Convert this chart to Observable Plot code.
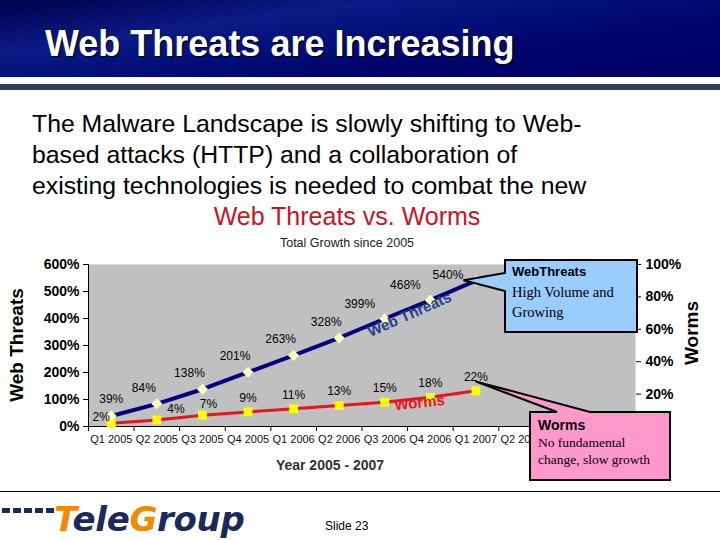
<!DOCTYPE html>
<html><head><meta charset="utf-8">
<script src="https://cdn.jsdelivr.net/npm/d3@7"></script>
<script src="https://cdn.jsdelivr.net/npm/@observablehq/plot@0.6"></script>
<style>
body{margin:0;}
#page{position:relative;width:720px;height:540px;overflow:hidden;background:#fff;font-family:Arial,"Liberation Sans",sans-serif;}
.abs{position:absolute;white-space:nowrap;}
.serif{font-family:"Liberation Serif","Times New Roman",serif;}
</style></head><body><div id="page">
<div class="abs" style="left:0;top:0;width:720px;height:77px;background:linear-gradient(172deg,#00004a 0%,#0b1a86 30%,#02107a 48%,#00066c 65%,#000066 100%)"></div>
<div class="abs" style="left:0;top:84px;width:720px;height:6px;background:#363d5e"></div>
<div class="abs" style="left:45px;top:23px;color:#fff;font-weight:bold;font-size:36px;line-height:42px;text-shadow:1px 1px 1px #000">Web Threats are Increasing</div>
<div class="abs" style="left:32px;top:108px;font-size:24.8px;line-height:31px;color:#000">The Malware Landscape is slowly shifting to Web-<br>based attacks (HTTP) and a collaboration of<br>existing technologies is needed to combat the new</div>
<div class="abs" id="chart" style="left:0;top:0"></div>
<div class="abs" style="left:0;width:720px;top:202px;text-align:center;"><span style="position:relative;left:-13px;font-size:25px;color:#c8141e">Web Threats vs. Worms</span></div>
<div class="abs" style="left:0;width:720px;top:233px;text-align:center;"><span style="position:relative;left:-13px;font-size:12.5px;color:#222">Total Growth since 2005</span></div>
<div class="abs" style="left:0;width:660px;top:457px;text-align:center;font-size:14px;font-weight:bold;color:#333">Year 2005 - 2007</div>
<div class="abs" style="left:17px;top:345px;font-size:19px;font-weight:bold;transform:translate(-50%,-50%) rotate(-90deg);">Web Threats</div>
<div class="abs" style="left:692px;top:333px;font-size:19px;font-weight:bold;transform:translate(-50%,-50%) rotate(-90deg);">Worms</div>
<svg id="callouts" class="abs" style="left:0;top:0" width="720" height="540"></svg>
<div class="abs" style="left:512px;top:264px;font-size:13px;font-weight:bold;">WebThreats</div>
<div class="abs serif" style="left:512px;top:282px;font-size:14.5px;line-height:20px;">High Volume and<br>Growing</div>
<div class="abs" style="left:538px;top:417px;font-size:14px;font-weight:bold;">Worms</div>
<div class="abs serif" style="left:538px;top:434px;font-size:13.5px;line-height:17px;">No fundamental<br>change, slow growth</div>
<div class="abs" style="left:0;top:491px;width:720px;height:1px;background:#000"></div>
<div class="abs" style="left:2px;top:508px;display:flex;gap:3px;">
<span style="width:8px;height:5px;background:#1a2a5a"></span><span style="width:8px;height:5px;background:#1a2a5a"></span><span style="width:8px;height:5px;background:#1a2a5a"></span><span style="width:8px;height:5px;background:#1a2a5a"></span><span style="width:8px;height:5px;background:#1a2a5a"></span></div>
<div class="abs" style="left:54px;top:498px;font-family:'DejaVu Sans',sans-serif;font-weight:bold;font-style:oblique;font-size:34px;line-height:42px;letter-spacing:-0.3px;"><span style="color:#f08a00">T</span><span style="color:#1a2a5a">ele</span><span style="color:#f08a00">G</span><span style="color:#1a2a5a">roup</span></div>
<div class="abs" style="left:325px;top:519px;font-size:12px;color:#000">Slide 23</div>
</div>
<script>
const quarters = ["Q1 2005","Q2 2005","Q3 2005","Q4 2005","Q1 2006","Q2 2006","Q3 2006","Q4 2006","Q1 2007","Q2 2007","Q3 2007","Q4 2007"];
const webThreats = [39,84,138,201,263,328,399,468,540];
const worms = [2,4,7,9,11,13,15,18,22];
const leftTicks = [0,100,200,300,400,500,600];
const rightTicks = [20,40,60,80,100];
// quarter labels visible in the reference (the rest sit under the Worms callout)
const visibleQuarterLabels = 10;

const ratio = 6; // right axis 100% == left axis 600%
const web = webThreats.map((v,i)=>({i, x:i+0.5, y:v, label:v+"%"}));
const wrm = worms.map((v,i)=>({i, x:i+0.5, y:v*ratio, label:v+"%"}));
const n = web.length;

const font = "Arial, 'Liberation Sans', sans-serif";
const plot = Plot.plot({
  width:720, height:540,
  marginLeft:88, marginRight:85, marginTop:264, marginBottom:114,
  style:{background:"transparent", fontFamily:font, color:"#000", overflow:"visible"},
  x:{domain:[0,quarters.length], axis:null},
  y:{domain:[0,600], axis:null},
  marks:[
    Plot.frame({fill:"#c0c0c0", stroke:null}),
    Plot.axisY({ticks:leftTicks, tickFormat:d=>d+"%", tickSize:5, tickPadding:4, fontSize:14, fontWeight:"bold", label:null}),
    Plot.axisY({anchor:"right", ticks:rightTicks.map(d=>d*ratio), tickFormat:d=>Math.round(d/ratio)+"%", tickSize:5, tickPadding:5, fontSize:14, fontWeight:"bold", label:null}),
    Plot.axisX({ticks:d3.range(0,quarters.length+1), tickFormat:()=>"", tickSize:5, label:null}),
    Plot.axisX({ticks:quarters.slice(0,visibleQuarterLabels).map((q,i)=>i+0.5), tickFormat:d=>quarters[Math.floor(d)], tickSize:0, tickPadding:9, fontSize:11, fill:"#111", label:null}),
    Plot.ruleX([0],{stroke:"#000"}),
    Plot.ruleY([0],{stroke:"#000"}),
    Plot.line(wrm,{x:"x", y:"y", stroke:"#e8141c", strokeWidth:3}),
    Plot.line(web,{x:"x", y:"y", stroke:"#000080", strokeWidth:4}),
    Plot.dot(wrm,{x:"x", y:"y", symbol:"square", r:5, fill:"#ffff00", stroke:null}),
    Plot.dot(web,{x:"x", y:"y", symbol:"diamond2", r:5, fill:"#ffffc0", stroke:null}),
    // web threats value labels
    Plot.text(web,{filter:d=>d.i===0, x:"x", y:"y", text:"label", dy:-17, fontSize:12}),
    Plot.text(web,{filter:d=>d.i>=1 && d.i<=5, x:"x", y:"y", text:"label", dx:-13, dy:-16, fontSize:12}),
    Plot.text(web,{filter:d=>d.i===6 || d.i===7, x:"x", y:"y", text:"label", dx:-25, dy:-15, fontSize:12}),
    Plot.text(web,{filter:d=>d.i===8, x:"x", y:"y", text:"label", dx:-28, dy:-6, fontSize:12}),
    // worms value labels
    Plot.text(wrm,{filter:d=>d.i===0, x:"x", y:"y", text:"label", dx:-10, dy:-6, fontSize:12}),
    Plot.text(wrm,{filter:d=>d.i===1, x:"x", y:"y", text:"label", dx:19, dy:-11, fontSize:12}),
    Plot.text(wrm,{filter:d=>d.i===2, x:"x", y:"y", text:"label", dx:6, dy:-11, fontSize:12}),
    Plot.text(wrm,{filter:d=>d.i>=3, x:"x", y:"y", text:"label", dy:-14, fontSize:12}),
    // inline series labels
    Plot.text([{x:(web[6].x+web[7].x)/2, y:(web[6].y+web[7].y)/2, t:"Web Threats"}],{x:"x", y:"y", text:"t", dx:2, dy:5, rotate:-24, fontSize:15, fontWeight:"bold", fill:"#23408a"}),
    Plot.text([{x:(wrm[6].x+wrm[7].x)/2, y:(wrm[6].y+wrm[7].y)/2, t:"Worms"}],{x:"x", y:"y", text:"t", dx:12, dy:3, rotate:-6, fontSize:15, fontWeight:"bold", fill:"#e8141c"})
  ]
});
document.getElementById("chart").appendChild(plot);

// callout shapes, tips computed from plot scales
const sx = plot.scale("x"), sy = plot.scale("y");
const svg = d3.select("#callouts");
const wt = [sx.apply(web[n-1].x) - 12, sy.apply(web[n-1].y)];
svg.append("path")
  .attr("d", `M505,260H637V332H505V291L${wt[0]},${wt[1]}L505,273Z`)
  .attr("fill","#99ccff").attr("stroke","#000").attr("stroke-width",2).attr("stroke-linejoin","miter");
const wm = [sx.apply(wrm[n-1].x), sy.apply(wrm[n-1].y) - 9];
svg.append("path")
  .attr("d", `M530,412H557L${wm[0]},${wm[1]}L590,412H670V480H530Z`)
  .attr("fill","#ff99cc").attr("stroke","#000").attr("stroke-width",2);
</script>
</body></html>
